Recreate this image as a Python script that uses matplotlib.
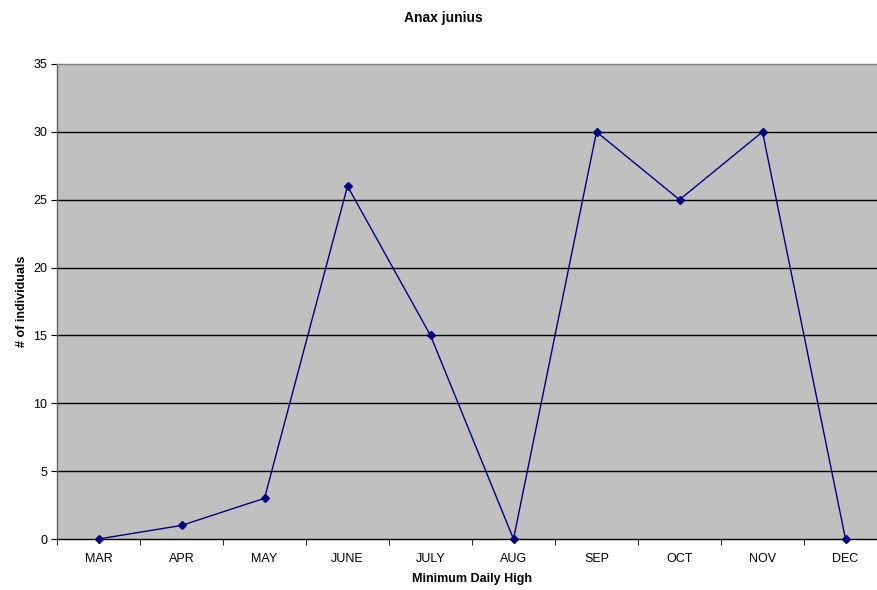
import matplotlib

matplotlib.use("Agg")
import matplotlib.pyplot as plt
import numpy as np

months = ["MAR", "APR", "MAY", "JUNE", "JULY", "AUG", "SEP", "OCT", "NOV", "DEC"]
counts = [0, 1, 3, 26, 15, 0, 30, 25, 30, 0]
y_ticks = [0, 5, 10, 15, 20, 25, 30, 35]

plt.rcParams["font.family"] = ["Liberation Sans", "DejaVu Sans"]

fig = plt.figure(figsize=(8.78, 5.9), dpi=100)
# plot area runs past the right edge, as in the reference
ax = fig.add_axes([57 / 878, 1 - 539 / 590, 830 / 878, 475 / 590])
ax.set_facecolor("#c0c0c0")

x = np.arange(len(months))
ax.plot(x, counts, color="#000080", lw=1.0, marker="D", ms=4, zorder=3, clip_on=False)

ax.set_xlim(-0.5, len(months) - 0.5)
ax.set_ylim(0, 35)
ax.set_yticks(y_ticks)
ax.set_xticks(x)
ax.set_xticklabels(months)
ax.set_xticks(np.arange(len(months) + 1) - 0.5, minor=True)
ax.tick_params(axis="x", which="major", length=0, labelsize=9, pad=10)
ax.tick_params(axis="x", which="minor", length=4, direction="out", color="black")
ax.tick_params(axis="y", length=4, direction="out", labelsize=9, pad=3)

for v in y_ticks[1:-1]:
    ax.axhline(v, color="black", lw=1.0, zorder=1)

ax.spines["top"].set_color("#808080")
ax.spines["left"].set_color("#606060")
ax.spines["bottom"].set_color("black")
ax.spines["right"].set_visible(False)
for s in ax.spines.values():
    s.set_linewidth(1.0)

ax.set_xlabel("Minimum Daily High", fontsize=9, fontweight="bold", labelpad=6)
ax.set_ylabel("# of individuals", fontsize=9, fontweight="bold", labelpad=4)
fig.text(443 / 878, 1 - 18 / 590, "Anax junius", ha="center", va="center",
         fontsize=10, fontweight="bold")

fig.savefig("out.png", dpi=100, facecolor="white")
